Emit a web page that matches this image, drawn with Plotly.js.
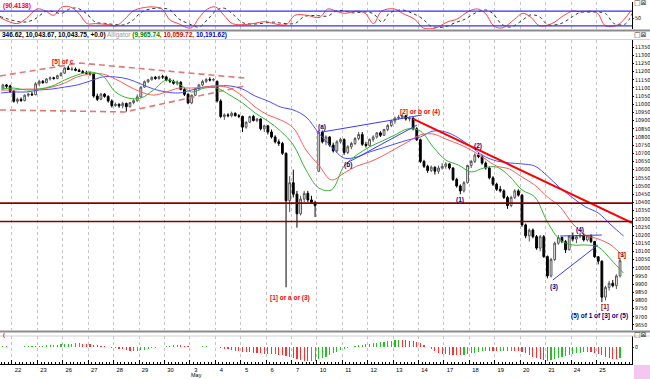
<!DOCTYPE html>
<html><head><meta charset="utf-8">
<script src="https://cdn.plot.ly/plotly-3.0.1.min.js"></script>
<style>html,body{margin:0;padding:0;background:#fff}#chart{width:650px;height:379px}</style>
</head><body><div id="chart"></div>
<script>
// ---- categories ----
const dayLabels = ['22','23','26','27','28','29','30','3','4','5','6','7','10','11','12','13','14','17','18','19','20','21','24','25'];
const barsPerDay = 7;
const firstBar = -3;

// ---- hourly OHLC ----
const open = [11100,11118,11112,
11080,11018,11030,11022,11055,11062,11058,
11125,11140,11132,11155,11162,11158,11175,
11190,11222,11212,11215,11208,11200,11192,
11190,11185,11050,11030,11062,11048,11020,
10991,11000,10990,11005,10985,11010,11022,
11045,11105,11138,11150,11165,11158,11168,
11167,11148,11140,11128,11135,11090,11060,
11008,11055,11095,11118,11140,11152,11148,
11140,11020,10925,10935,10930,10945,10930,
10926,10860,10890,10925,10900,10910,10850,
10868,10830,10800,10770,10760,10700,10410,
10520,10450,10330,10420,10455,10415,10400,
10590,10830,10770,10800,10750,10715,10770,
10785,10705,10740,10760,10790,10815,10755,
10748,10785,10800,10825,10810,10845,10870,
10897,10915,10920,10930,10910,10915,10850,
10783,10650,10620,10595,10615,10590,10610,
10620,10635,10610,10540,10500,10470,10520,
10625,10650,10690,10680,10640,10610,10550,
10511,10480,10470,10430,10380,10430,10470,
10444,10262,10195,10230,10190,10120,10190,
10068,9950,10050,10150,10185,10160,10110,
10193,10175,10190,10200,10170,10195,10160,
10067,10040,9820,9880,9905,9890,9950];
const high = [11125,11124,11120,
11085,11040,11042,11060,11070,11075,11135,
11150,11148,11160,11170,11168,11180,11195,
11228,11236,11230,11225,11218,11210,11205,
11200,11192,11065,11070,11068,11055,11030,
11010,11005,11015,11010,11015,11030,11060,
11110,11145,11155,11170,11172,11175,11180,
11175,11160,11150,11145,11140,11100,11070,
11060,11100,11125,11150,11160,11165,11160,
11145,11030,10945,10945,10955,10950,10940,
10930,10895,10930,10935,10915,10912,10875,
10870,10845,10810,10785,10770,10705,10560,
10600,10470,10440,10470,10470,10440,10410,
10840,10840,10810,10805,10765,10780,10795,
10790,10750,10770,10800,10830,10830,10770,
10790,10810,10830,10835,10850,10880,10905,
10925,10935,10940,10935,10925,10920,10860,
10790,10660,10630,10625,10620,10625,10640,
10645,10640,10615,10550,10510,10530,10630,
10660,10700,10705,10690,10650,10620,10560,
10520,10500,10480,10440,10440,10480,10480,
10450,10270,10240,10240,10200,10200,10200,
10075,10060,10160,10200,10190,10170,10200,
10215,10200,10215,10210,10200,10205,10165,
10070,10045,9890,9920,9925,9960,10060];
const low = [11090,11100,11070,
11010,11004,11015,11018,11045,11050,11055,
11110,11125,11128,11145,11150,11152,11170,
11185,11210,11205,11202,11198,11188,11182,
11175,11040,11020,11025,11040,11010,10980,
10985,10978,10975,10955,10980,11000,11015,
11040,11100,11130,11145,11150,11150,11155,
11140,11130,11120,11115,11085,11050,11000,
11000,11050,11085,11110,11130,11140,11140,
11010,10915,10905,10920,10920,10925,10915,
10830,10850,10885,10895,10890,10840,10830,
10815,10790,10760,10745,10690,9880,10340,
10430,10245,10320,10400,10400,10390,10310,
10585,10760,10750,10740,10705,10705,10760,
10690,10695,10725,10750,10780,10745,10735,
10740,10770,10790,10800,10805,10835,10860,
10880,10905,10910,10900,10895,10840,10775,
10640,10610,10580,10585,10570,10575,10600,
10605,10600,10530,10490,10450,10460,10515,
10610,10640,10670,10630,10600,10540,10500,
10470,10460,10420,10360,10370,10420,10435,
10250,10180,10160,10180,10110,10100,10060,
9935,9940,10040,10140,10150,10090,10105,
10160,10150,10180,10160,10160,10150,10060,
10020,9790,9800,9860,9880,9870,9940];
const close = [11118,11110,11078,
11018,11030,11022,11055,11062,11058,11125,
11140,11132,11155,11162,11158,11175,11190,
11222,11212,11215,11208,11200,11192,11190,
11185,11050,11030,11062,11048,11020,10991,
11000,10990,11005,10985,11010,11022,11045,
11105,11138,11150,11165,11158,11168,11167,
11148,11140,11128,11135,11090,11060,11008,
11055,11095,11118,11140,11152,11148,11151,
11020,10925,10935,10930,10945,10930,10926,
10860,10890,10925,10900,10910,10850,10868,
10830,10800,10770,10760,10700,10410,10520,
10450,10330,10420,10455,10415,10400,10380,
10830,10770,10800,10750,10715,10770,10785,
10705,10740,10760,10790,10815,10755,10748,
10785,10800,10825,10810,10845,10870,10897,
10915,10920,10930,10910,10915,10850,10783,
10650,10620,10595,10615,10590,10610,10620,
10635,10610,10540,10500,10470,10520,10625,
10650,10690,10680,10640,10610,10550,10511,
10480,10470,10430,10380,10430,10470,10444,
10262,10195,10230,10190,10120,10190,10068,
9950,10050,10150,10185,10160,10110,10193,
10175,10190,10200,10170,10195,10160,10067,
10040,9820,9880,9905,9890,9950,10043];

// ---- Alligator lines (read at half-day steps) ----
const alligatorX = [-3.5,0,3.5,7,10.5,14,17.5,21,24.5,28,31.5,35,38.5,42,45.5,49,52.5,56,59.5,63,66.5,70,73.5,77,80.5,84,87.5,91,94.5,98,101.5,105,108.5,112,115.5,119,122.5,126,129.5,133,136.5,140,143.5,147,150.5,154,157.5,161,164.5,168];
const jaw = [11069,11075,11075,11087,11093,11105,11118,11142,11167,11167,11154,11124,11093,11075,11069,11087,11105,11112,11112,11093,11050,11020,10983,10965,10922,10824,10739,10671,10677,10708,10732,10757,10781,10800,10836,10830,10794,10739,10683,10653,10641,10635,10622,10561,10488,10427,10372,10335,10262,10194];
const teeth = [11087,11087,11093,11093,11105,11130,11167,11185,11185,11154,11112,11075,11056,11075,11099,11099,11105,11112,11099,11050,10983,10934,10904,10855,10720,10628,10537,10579,10622,10647,10683,10726,10769,10812,10818,10787,10757,10720,10671,10622,10604,10555,10506,10433,10372,10268,10200,10176,10139,10066];
const lips = [11093,11099,11087,11093,11111,11148,11179,11197,11173,11075,11038,11038,11087,11148,11124,11075,11099,11099,11056,11008,10946,10897,10836,10751,10598,10488,10476,10622,10690,10739,10775,10812,10849,10836,10739,10659,10628,10586,10610,10616,10561,10476,10433,10280,10170,10139,10139,10127,10050,9966];

// ---- top oscillator ----
const oscX = [-3.8,0.8,3.1,6.5,8.8,11,13.3,15.6,17.9,20.2,22.5,25.9,28.2,30.5,32.8,35.6,38.5,40.8,43.1,45.3,48.8,51.1,53.4,55.6,57.9,60.2,63.6,65.9,69.4,71.6,75.1,77.4,80.8,84.2,86.5,88.8,91.1,94.5,96.8,99.1,101.3,104.8,107.1,110.5,112.8,116.2,119.6,121.9,125.4,127.7,129.9,132.2,134.5,137.9,140.2,142.5,144.8,148.2,151.6,153.9,156.2,158.5,160.8,163,166.5,169.9];
const oscMain = [54,29,46,89,80,63,97,97,71,29,29,25,20,46,80,94,97,89,43,29,11,54,89,97,63,29,25,29,37,29,25,63,63,54,89,80,71,80,71,29,80,89,71,46,11,11,37,46,80,89,71,20,11,46,71,54,20,29,63,80,77,80,71,20,25,80];
const sigX = [-3.8,2.5,5.5,9,11,13,15.5,17.5,20,22.5,25,28,30.5,33,35,38,41,43,45.5,48,51,53.5,56,58,60.5,63,66,68.5,71.5,74,77.5,80,83,86.5,89,91.5,93.5,96.5,99,101.5,103.5,107,109.5,112.5,115,118.5,122,124,127.5,130,132,134.5,137,140,142.5,145,147,150.5,154,156,158.5,161,163,165.5,168.5,170.3];
const oscSignal = [58,35,45,80,78,70,90,92,70,35,30,25,24,45,75,90,92,85,48,30,15,48,85,92,65,33,27,30,35,30,30,58,62,60,82,80,73,77,70,35,72,85,73,50,18,15,35,45,75,85,70,25,15,42,65,55,25,28,58,75,76,77,70,28,28,70];
const oscLevels = [80, 20];

// ---- bottom gator histogram (one value per bar) ----
const gator = [4,3,2,
2,1,2,3,3,4,5,
6,7,8,9,10,12,13,
14,16,17,18,18,17,16,
14,12,10,7,4,1,-3,
-6,-9,-12,-15,-18,-20,-19,
-17,-14,-10,-7,-4,-1,2,
4,6,8,9,8,6,4,
2,1,2,3,3,2,1,
-1,-4,-8,-12,-15,-18,-21,
-24,-26,-27,-28,-30,-32,-33,
-34,-35,-37,-38,-40,-45,-50,
-55,-60,-64,-68,-70,-70,-68,
-62,-55,-48,-40,-32,-24,-16,
-9,-3,2,6,9,11,13,
15,18,21,24,27,30,32,
34,35,34,33,31,28,24,
18,8,-2,-12,-20,-28,-34,
-37,-39,-40,-41,-42,-40,-36,
-32,-28,-24,-20,-18,-19,-21,
-22,-22,-21,-20,-20,-21,-22,
-26,-32,-40,-48,-55,-62,-66,
-68,-66,-62,-56,-50,-44,-38,
-33,-30,-28,-26,-25,-27,-30,
-35,-42,-48,-54,-58,-62,-55];

// ---- drawn trendlines / levels ----
const levels = [10395, 10283];
const diamondUpperX = [-3.8, 18.2, 63.7], diamondUpperY = [11173, 11252, 11160];
const diamondLowerX = [-3.8, 30.6, 63.7], diamondLowerY = [10965, 10953, 11112];
const wedgeUpperX = [84.9, 112.4], wedgeUpperY = [10830, 10934];
const wedgeLowerX = [91.8, 111.1], wedgeLowerY = [10641, 10873];
const downTrendX = [110, 170.3], downTrendY = [10910, 10274];
const triUpperX = [150.5, 162], triUpperY = [10194, 10200];
const triLowerX = [148.5, 160.9], triLowerY = [9925, 10139];

// ---- wave labels ----
const labelText = ['[5] of c','(a)','(b)','[2] or b or (4)','[1] or a or (3)','(1)','(2)','(3)','(4)','[1]','(5) of 1 of [3] or (5)','[3]'];
const labelX = [13.6, 84.9, 92.1, 111.9, 76.1, 122.9, 127.9, 148.8, 156, 162.9, 161.4, 167.6];
const labelY = [11258, 10861, 10628, 10953, 9815, 10414, 10745, 9882, 10231, 9760, 9705, 10078];
const labelColor = ['#ff0000','#000080','#000080','#ff0000','#ff0000','#000080','#000080','#000080','#000080','#a00000','#000080','#a00000'];

// ================= build =================
const barX = open.map((_, k) => firstBar + k);
const dayTicks = dayLabels.map((_, d) => d * barsPerDay - 0.5);
const gatorColors = gator.map((v, k) => (k === 0 || v >= gator[k - 1]) ? '#22c022' : '#ff3030');
const FONT = 'Liberation Sans, Arial, sans-serif';
const AXFONT = 'Liberation Sans Narrow, DejaVu Sans Condensed, Liberation Sans, Arial, sans-serif';
const PW = 632;  // plot-area width in px
const H = 364;   // plot-area height in px
const py = p => (H - p) / H; // pixel row -> paper y

const traces = [
  {type:'bar', x:barX, y:gator, xaxis:'x', yaxis:'y', marker:{color:gatorColors, line:{width:0}}, width:0.32, hoverinfo:'skip'},
  {type:'scatter', mode:'lines', x:diamondUpperX, y:diamondUpperY, yaxis:'y2', line:{color:'#e07878', width:1.6, dash:'6px,4px'}, hoverinfo:'skip'},
  {type:'scatter', mode:'lines', x:diamondLowerX, y:diamondLowerY, yaxis:'y2', line:{color:'#e07878', width:1.6, dash:'6px,4px'}, hoverinfo:'skip'},
  {type:'scatter', mode:'lines', x:alligatorX, y:jaw, yaxis:'y2', line:{color:'#4b4bff', width:1, shape:'spline'}, hoverinfo:'skip'},
  {type:'scatter', mode:'lines', x:alligatorX, y:teeth, yaxis:'y2', line:{color:'#ff5a5a', width:1, shape:'spline'}, hoverinfo:'skip'},
  {type:'scatter', mode:'lines', x:alligatorX, y:lips, yaxis:'y2', line:{color:'#2fb82f', width:1, shape:'spline'}, hoverinfo:'skip'},
  {type:'scatter', mode:'lines', x:wedgeUpperX, y:wedgeUpperY, yaxis:'y2', line:{color:'#3a3aff', width:1}, hoverinfo:'skip'},
  {type:'scatter', mode:'lines', x:wedgeLowerX, y:wedgeLowerY, yaxis:'y2', line:{color:'#3a3aff', width:1}, hoverinfo:'skip'},
  {type:'scatter', mode:'lines', x:triUpperX, y:triUpperY, yaxis:'y2', line:{color:'#3a3aff', width:1}, hoverinfo:'skip'},
  {type:'scatter', mode:'lines', x:triLowerX, y:triLowerY, yaxis:'y2', line:{color:'#3a3aff', width:1}, hoverinfo:'skip'},
  {type:'scatter', mode:'lines', x:downTrendX, y:downTrendY, yaxis:'y2', line:{color:'#ff0000', width:2}, hoverinfo:'skip'},
  {type:'candlestick', x:barX, open:open, high:high, low:low, close:close, xaxis:'x', yaxis:'y2',
    whiskerwidth:0,
    increasing:{line:{color:'#555555', width:1}, fillcolor:'#ffffff'},
    decreasing:{line:{color:'#000000', width:1}, fillcolor:'#000000'}, hoverinfo:'skip'},
  {type:'scatter', mode:'lines', x:sigX, y:oscSignal, yaxis:'y3', line:{color:'#333333', width:1, dash:'dot', shape:'spline'}, hoverinfo:'skip'},
  {type:'scatter', mode:'lines', x:oscX, y:oscMain, yaxis:'y3', line:{color:'#ff4040', width:1, shape:'spline'}, hoverinfo:'skip'}
];

const shapes = [];
levels.forEach(v => shapes.push({type:'line', xref:'x domain', yref:'y2', x0:0, x1:1, y0:v, y1:v, line:{color:'#8b0000', width:1.6}}));
oscLevels.forEach(v => shapes.push({type:'line', xref:'x domain', yref:'y3', x0:0, x1:1, y0:v, y1:v, line:{color:'#3030ff', width:1.2}}));
// panel separators
[[30.5,'#8c8c8c',2],[39.5,'#d0d0d0',1],[331.5,'#8c8c8c',2],[336,'#d0d0d0',1]].forEach(s =>
  shapes.push({type:'line', xref:'paper', yref:'paper', x0:0, x1:650/PW, y0:py(s[0]), y1:py(s[0]), line:{color:s[1], width:s[2]}}));
// pink corner box
shapes.push({type:'rect', xref:'paper', yref:'paper', x0:634/PW, x1:650/PW, y0:py(379), y1:py(365), fillcolor:'#f6c6f2', line:{width:0}});

const annotations = labelText.map((t, k) => ({
  text:'<b>' + t + '</b>', x:labelX[k], y:labelY[k], xref:'x', yref:'y2', showarrow:false,
  font:{family:FONT, size:6.5, color:labelColor[k]}
}));
annotations.push({text:'<b>(90.4138)</b>', xref:'paper', yref:'paper', x:0.002, y:py(6), xanchor:'left', yanchor:'middle', showarrow:false, font:{family:FONT, size:6.5, color:'#ff0000'}});
annotations.push({text:'<b>346.62, 10,043.67, 10,043.75, +0.0)</b> <span style="color:#9a9a9a">Alligator</span> <b><span style="color:#008000">(9,965.74,</span> <span style="color:#e00000">10,059.72,</span> <span style="color:#0000d0">10,191.62)</span></b>',
  xref:'paper', yref:'paper', x:0, y:py(35), xanchor:'left', yanchor:'middle', showarrow:false, font:{family:FONT, size:6.5, color:'#000'}});
annotations.push({text:'<b>(</b>', xref:'paper', yref:'paper', x:0.002, y:py(335), xanchor:'left', yanchor:'middle', showarrow:false, font:{family:FONT, size:6, color:'#ff0000'}});
annotations.push({text:'May', xref:'x', yref:'paper', x:50.2, y:py(379.6), xanchor:'center', yanchor:'bottom', showarrow:false, font:{family:FONT, size:5.5, color:'#000'}});
[3, 35, 335].forEach(p => annotations.push({text:'□⊠', xref:'paper', yref:'paper', x:649/PW, y:py(p), xanchor:'right', yanchor:'middle', showarrow:false, font:{family:'DejaVu Sans', size:7, color:'#333'}}));

const layout = {
  width:650, height:379,
  margin:{l:0, r:650 - PW, t:0, b:15, pad:0},
  paper_bgcolor:'#ffffff', plot_bgcolor:'#ffffff',
  showlegend:false, bargap:0,
  font:{family:FONT, size:6, color:'#000'},
  xaxis:{
    range:[-3.8, 170.3], anchor:'y', rangeslider:{visible:false},
    tickmode:'array', tickvals:dayTicks, ticktext:dayLabels, ticklabelshift:6, ticklabelstandoff:0,
    ticks:'inside', ticklen:4, tickcolor:'#000', tickfont:{family:FONT, size:5.8},
    showgrid:true, gridcolor:'#c4c4c4', griddash:'dot', gridwidth:1,
    showline:true, linecolor:'#000', linewidth:1, zeroline:false,
    minor:{tick0:-0.5, dtick:1, ticks:'inside', ticklen:2, tickcolor:'#000', showgrid:false}
  },
  yaxis:{domain:[0, py(336)], range:[-85, 55], side:'right', anchor:'x',
    tickmode:'array', tickvals:[0], ticktext:['0'], ticks:'outside', ticklen:1, tickfont:{family:AXFONT, size:5.3},
    showgrid:false, zeroline:false, showline:true, linecolor:'#000'},
  yaxis2:{domain:[py(330), py(40)], range:[9619, 11393], side:'right', anchor:'x',
    tick0:0, dtick:50, tickformat:'d', ticks:'outside', ticklen:1, tickcolor:'#000', tickfont:{family:AXFONT, size:5.3},
    ticklabelstandoff:0,
    showgrid:false, zeroline:false, showline:true, linecolor:'#000'},
  yaxis3:{domain:[py(29), py(2)], range:[6.8, 117.5], side:'right', anchor:'x',
    tickmode:'array', tickvals:[50], ticktext:['50'], ticks:'outside', ticklen:1, tickfont:{family:AXFONT, size:5.3},
    showgrid:false, zeroline:false, showline:true, linecolor:'#000'},
  shapes:shapes, annotations:annotations
};

Plotly.newPlot('chart', traces, layout, {staticPlot:true, displayModeBar:false});
</script>
</body></html>
